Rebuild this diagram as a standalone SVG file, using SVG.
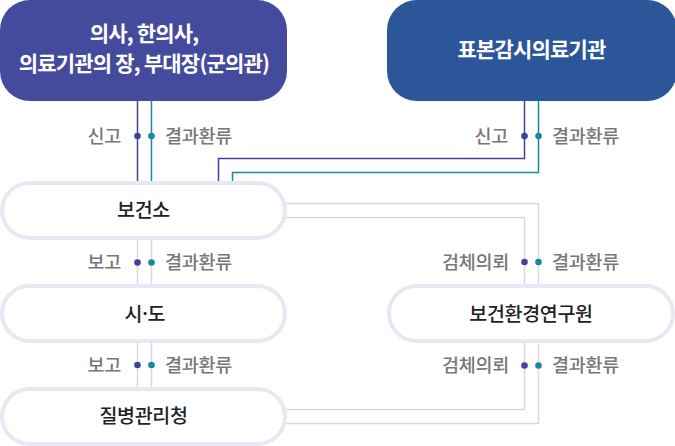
<svg xmlns="http://www.w3.org/2000/svg" width="675" height="446" viewBox="0 0 675 446">
<style>
.hdr{font-family:"Noto Sans CJK KR","Noto Sans",sans-serif;font-weight:700;font-size:21px;fill:#fff;text-anchor:middle;letter-spacing:-0.8px}
.node rect.pill{fill:#fff;stroke:#e8e8f4;stroke-width:4}
.nt{font-family:"Noto Sans CJK KR","Noto Sans",sans-serif;font-weight:500;font-size:19.5px;fill:#222;text-anchor:middle;letter-spacing:-0.3px}
.lb{font-family:"Noto Sans CJK KR","Noto Sans",sans-serif;font-weight:500;font-size:18.5px;fill:#777;letter-spacing:-0.3px}
.lr{text-anchor:end}
.p{stroke:#3d4499;stroke-width:1.5;fill:none}
.t{stroke:#1a86a0;stroke-width:1.5;fill:none}
.g{stroke:#d9d9d9;stroke-width:1.5;fill:none}
.dp{fill:#3d4499}
.dt{fill:#1a86a0}
</style>
<rect width="675" height="446" fill="#fff"/>
<g id="connectors">
<line class="p" x1="137.5" y1="100" x2="137.5" y2="183"/>
<line class="t" x1="151.5" y1="100" x2="151.5" y2="183"/>
<polyline class="p" points="524.5,100 524.5,158.5 218.5,158.5 218.5,183"/>
<polyline class="t" points="538.5,100 538.5,172.5 232.5,172.5 232.5,183"/>
<line class="g" x1="137.5" y1="238" x2="137.5" y2="388"/>
<line class="g" x1="151.5" y1="238" x2="151.5" y2="388"/>
<polyline class="g" points="285,203.5 538.5,203.5 538.5,423.5 285,423.5"/>
<polyline class="g" points="285,217.5 524.5,217.5 524.5,409.5 285,409.5"/>
<circle class="dp" cx="137.5" cy="136" r="3.3"/>
<circle class="dt" cx="151.5" cy="136" r="3.3"/>
<circle class="dp" cx="524.5" cy="136" r="3.3"/>
<circle class="dt" cx="538.5" cy="136" r="3.3"/>
<circle class="dp" cx="137.5" cy="262.5" r="3.3"/>
<circle class="dt" cx="151.5" cy="262.5" r="3.3"/>
<circle class="dp" cx="137.5" cy="365" r="3.3"/>
<circle class="dt" cx="151.5" cy="365" r="3.3"/>
<circle class="dp" cx="524.5" cy="262" r="3.3"/>
<circle class="dt" cx="538.5" cy="262" r="3.3"/>
<circle class="dp" cx="524.5" cy="365.5" r="3.3"/>
<circle class="dt" cx="538.5" cy="365.5" r="3.3"/>
<text class="lb lr" x="121" y="142.5">신고</text>
<text class="lb" x="165" y="142.5">결과환류</text>
<text class="lb lr" x="508" y="142.5">신고</text>
<text class="lb" x="552" y="142.5">결과환류</text>
<text class="lb lr" x="121" y="269">보고</text>
<text class="lb" x="165" y="269">결과환류</text>
<text class="lb lr" x="509" y="268.5">검체의뢰</text>
<text class="lb" x="552" y="268.5">결과환류</text>
<text class="lb lr" x="121" y="371.5">보고</text>
<text class="lb" x="165" y="371.5">결과환류</text>
<text class="lb lr" x="509" y="372">검체의뢰</text>
<text class="lb" x="552" y="372">결과환류</text>
</g>
<g id="doctors">
<rect x="0" y="0" width="287" height="101" rx="30" fill="#444b9d"/>
<text class="hdr" x="144" y="40.5">의사, 한의사,</text>
<text class="hdr" x="144" y="70.5">의료기관의 장, 부대장(군의관)</text>
</g>
<g id="sentinel">
<rect x="387" y="0" width="290" height="101" rx="30" fill="#2b579a"/>
<text class="hdr" x="531.5" y="57">표본감시의료기관</text>
</g>
<g id="health-center" class="node">
<rect class="pill" x="2" y="183" width="283" height="55" rx="27.5"/>
<text class="nt" x="143.5" y="217">보건소</text>
</g>
<g id="sido" class="node">
<rect class="pill" x="2" y="286" width="283" height="55" rx="27.5"/>
<text class="nt" x="143.5" y="320.5" style="letter-spacing:-3px">시·도</text>
</g>
<g id="kdca" class="node">
<rect class="pill" x="2" y="389" width="283" height="55" rx="27.5"/>
<text class="nt" x="143.5" y="423">질병관리청</text>
</g>
<g id="institute" class="node">
<rect class="pill" x="389" y="286" width="284" height="55" rx="27.5"/>
<text class="nt" x="531" y="320.5">보건환경연구원</text>
</g>
</svg>
